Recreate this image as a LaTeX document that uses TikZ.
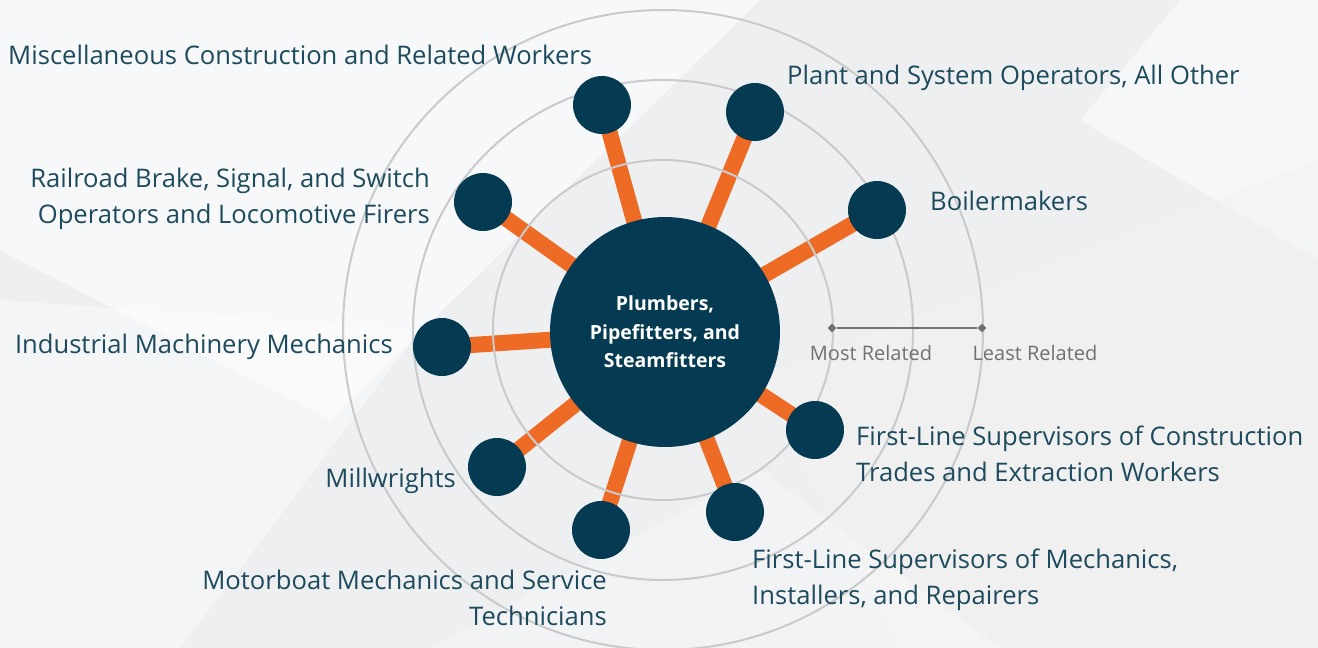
\documentclass[tikz,border=0pt]{standalone}
\usepackage{fontspec}
\setmainfont{Open Sans}
\usepackage{tikz}
\usetikzlibrary{positioning, shapes.geometric, backgrounds}
\definecolor{hubblue}{HTML}{053B52}
\definecolor{spokeorange}{HTML}{EE6B25}
\definecolor{labelteal}{HTML}{1D4A5C}
\definecolor{ringgray}{HTML}{C9CACC}
\definecolor{bggray}{HTML}{EDEFF1}
\definecolor{scalegray}{HTML}{6F7173}
\pgfdeclarelayer{spokelayer}
\pgfsetlayers{background,spokelayer,main}
\tikzset{
	hubnode/.style={
			circle,
			fill=hubblue,
			draw=none,
			minimum size=230pt,
			inner sep=0pt,
			text=white,
			align=center,
			font=\fontsize{19.5}{28.5}\selectfont\bfseries
		},
	jobnode/.style={
			circle,
			fill=hubblue,
			draw=none,
			minimum size=58pt,
			inner sep=0pt
		},
	spoke/.style={
			line width=16pt,
			draw=spokeorange
		},
	ring/.style={
			draw=ringgray,
			line width=2pt
		},
	joblabel/.style={
			text=labelteal,
			inner sep=0pt,
			font=\fontsize{25.6}{36}\selectfont
		},
	scalelabel/.style={
			text=scalegray,
			inner sep=0pt,
			font=\fontsize{20}{24}\selectfont
		},
	scaletick/.style={
			diamond,
			fill=scalegray,
			minimum size=9pt,
			inner sep=0pt
		}
}

\begin{document}
\begin{tikzpicture}[x=1pt, y=-1pt]
% backdrop
\begin{scope}[on background layer]
\fill[bggray] (0,0) rectangle (1318,648);
\fill[white, opacity=0.6] (0,0) -- (760,0) -- (330,420) -- (0,250) -- cycle;
\fill[white, opacity=0.4] (0,300) -- (420,330) -- (180,648) -- (0,648) -- cycle;
\fill[white, opacity=0.5] (1318,0) -- (1318,260) -- (1080,120) -- (1180,0) -- cycle;
\fill[gray!10, opacity=0.6] (760,380) -- (1318,160) -- (1318,648) -- (900,648) -- cycle;
\fill[white, opacity=0.3] (430,648) -- (760,470) -- (1000,648) -- cycle;
\end{scope}
\useasboundingbox (0,0) rectangle (1318,648);

% rings
\draw[ring] (663,330) circle (170);
\draw[ring] (663,330) circle (250);
\draw[ring] (663,330) circle (320);

% hub and jobs
\node[hubnode] (hub) at (665,332) {Plumbers,\\Pipefitters, and\\Steamfitters};
\node[jobnode] (misc) at (602,105) {};
\node[jobnode] (plant) at (755,112) {};
\node[jobnode] (boiler) at (877,210) {};
\node[jobnode] (rail) at (483,202) {};
\node[jobnode] (indus) at (442,347) {};
\node[jobnode] (flcons) at (815,430) {};
\node[jobnode] (mill) at (497,467) {};
\node[jobnode] (motor) at (601,530) {};
\node[jobnode] (flmech) at (735,512) {};

\begin{pgfonlayer}{spokelayer}
\foreach \job in {misc,plant,boiler,rail,indus,flcons,mill,motor,flmech}
  \draw[spoke] (hub.center) -- (\job.center);
\end{pgfonlayer}

% labels
\node[joblabel, anchor=west] (miscl) at (8,55) {Miscellaneous Construction and Related Workers};
\node[joblabel, anchor=west] (plantl) at (787,78) {Plant and System Operators, All Other};
\node[joblabel, anchor=west] (boilerl) at (930,201) {Boilermakers};
\node[joblabel, anchor=east, align=right] (raill) at (430,199)
  {Railroad Brake, Signal, and Switch\\Operators and Locomotive Firers};
\node[joblabel, anchor=east] (indusl) at (393,347) {Industrial Machinery Mechanics};
\node[joblabel, anchor=west, align=left] (flconsl) at (856,454)
  {First-Line Supervisors of Construction\\Trades and Extraction Workers};
\node[joblabel, anchor=east] (milll) at (456,481) {Millwrights};
\node[joblabel, anchor=east, align=right] (motorl) at (607,598)
  {Motorboat Mechanics and Service\\Technicians};
\node[joblabel, anchor=west, align=left] (flmechl) at (752,580)
  {First-Line Supervisors of Mechanics,\\Installers, and Repairers};

% scale
\node[scaletick] (most) at (832,328) {};
\node[scaletick] (least) at (982,328) {};
\draw[scalegray, line width=2.5pt] (most) -- (least);
\node[scalelabel] (mostl) at (871,353) {Most Related};
\node[scalelabel] (leastl) at (1035,353) {Least Related};
\end{tikzpicture}
\end{document}
